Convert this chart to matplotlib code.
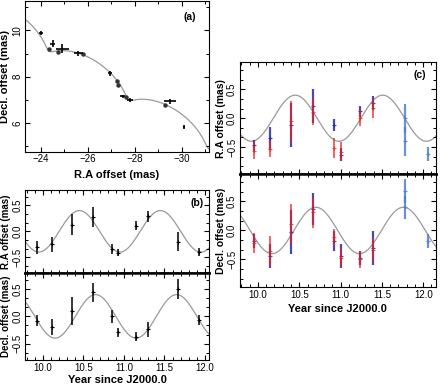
import numpy as np
import matplotlib
matplotlib.use("Agg")
import matplotlib.pyplot as plt
from matplotlib.ticker import MultipleLocator

plt.rcParams["font.family"] = ["Liberation Sans", "DejaVu Sans"]
plt.rcParams["font.size"] = 7

# parallax + proper motion fit
PLX_AMP = 0.40
RA_PEAK = 10.45
DEC_PEAK = 10.65
MU_RA = -3.39
MU_DEC = -2.10
RA_REF = -27.02
DEC_REF = 7.84
T_REF = 11.0
# curve of panel (c) as drawn
C_PERIOD = 1.06
C_RA_PEAK = 10.45
C_DEC_PEAK = 10.70

# (a) sky positions
obs_ra = [-24.0, -24.5, -24.92, -25.6, -26.95, -27.48, -27.79, -29.48, -30.09]
obs_dec = [9.9, 9.43, 9.21, 9.01, 8.14, 7.16, 7.0, 6.93, 5.83]
obs_ra_err = [0.08, 0.1, 0.26, 0.2, 0.08, 0.1, 0.12, 0.25, 0.06]
obs_dec_err = [0.08, 0.14, 0.2, 0.1, 0.12, 0.06, 0.1, 0.12, 0.08]
mod_ra = [-24.34, -24.71, -25.79, -27.23, -27.28, -27.6, -29.26]
mod_dec = [9.21, 9.07, 8.96, 7.83, 7.66, 7.11, 6.79]

# (b) residuals after proper motion
epochs = [9.93, 10.11, 10.36, 10.62, 10.85, 10.93, 11.15, 11.30, 11.67, 11.93]
b_ra = [-0.31, -0.25, 0.13, 0.28, -0.34, -0.41, 0.11, 0.29, -0.20, -0.40]
b_ra_err = [0.12, 0.15, 0.20, 0.19, 0.10, 0.07, 0.09, 0.11, 0.18, 0.08]
b_dec = [-0.08, -0.20, 0.10, 0.44, 0.0, -0.29, -0.37, -0.24, 0.50, -0.06]
b_dec_err = [0.10, 0.15, 0.26, 0.17, 0.12, 0.08, 0.08, 0.14, 0.18, 0.09]

# (c) per-component residuals
red_t = [9.95, 10.14, 10.40, 10.67, 10.92, 11.00, 11.24, 11.39]
red_ra = [-0.56, -0.54, -0.05, 0.11, -0.52, -0.58, 0.0, 0.17]
red_ra_err = [0.14, 0.14, 0.35, 0.23, 0.17, 0.17, 0.14, 0.17]
red_dec = [-0.21, -0.35, 0.11, 0.31, -0.12, -0.47, -0.50, -0.33]
red_dec_err = [0.17, 0.26, 0.35, 0.26, 0.15, 0.15, 0.15, 0.20]
blue_t = [9.95, 10.14, 10.40, 10.67, 10.92, 11.00, 11.24, 11.39]
blue_ra = [-0.47, -0.35, -0.12, 0.21, -0.12, -0.63, 0.12, 0.27]
blue_ra_err = [0.10, 0.20, 0.38, 0.29, 0.10, 0.12, 0.10, 0.12]
blue_dec = [-0.18, -0.44, -0.03, 0.37, -0.18, -0.44, -0.47, -0.30]
blue_dec_err = [0.12, 0.20, 0.38, 0.28, 0.17, 0.20, 0.12, 0.29]
late_t = [11.78, 11.78, 12.06]
late_ra = [0.0, -0.40, -0.62]
late_ra_err = [0.25, 0.25, 0.12]
late_dec = [0.68, 0.40, -0.18]
late_dec_err = [0.20, 0.20, 0.12]

RED = "#e8221e"
BLUE = "#2a2aa0"
LBLUE = "#4f7fd0"
CURVE = "#9a9a9a"


def plx(t, peak, period=1.0):
    return PLX_AMP * np.cos(2 * np.pi * (t - peak) / period)


def style(ax, xminor, yminor):
    ax.tick_params(which="both", direction="in", top=True, right=True, pad=2)
    ax.tick_params(which="major", length=3.5, width=0.8)
    ax.tick_params(which="minor", length=2, width=0.7)
    ax.xaxis.set_minor_locator(MultipleLocator(xminor))
    ax.yaxis.set_minor_locator(MultipleLocator(yminor))
    for lab in ax.get_yticklabels():
        lab.set_rotation(90)
        lab.set_va("center")


fig = plt.figure(figsize=(4.4, 3.87), dpi=100)

# ---- (a)
ax = fig.add_axes([0.057, 0.608, 0.418, 0.389])
t = np.linspace(9.7, 12.3, 600)
ax.plot(RA_REF + MU_RA * (t - T_REF) + plx(t, RA_PEAK),
        DEC_REF + MU_DEC * (t - T_REF) + plx(t, DEC_PEAK),
        color=CURVE, lw=0.9, zorder=1)
ax.errorbar(obs_ra, obs_dec, xerr=obs_ra_err, yerr=obs_dec_err, fmt="none",
            ecolor="black", elinewidth=1.2, zorder=3)
ax.plot(mod_ra, mod_dec, "o", color="#333333", ms=2.2, zorder=2)
ax.set_xlim(-23.33, -31.15)
ax.set_ylim(4.76, 11.26)
ax.set_xticks([-24, -26, -28, -30])
ax.set_yticks([6, 8, 10])
style(ax, 1, 1)
ax.set_xlabel("R.A offset (mas)", fontweight="bold", fontsize=8, labelpad=4)
ax.set_ylabel("Decl. offset (mas)", fontweight="bold", fontsize=8, labelpad=2)
ax.text(0.93, 0.93, "(a)", transform=ax.transAxes, ha="right", va="top",
        fontweight="bold", fontsize=7.5)

# ---- (b)
tc = np.linspace(9.7, 12.2, 400)
b_top = fig.add_axes([0.057, 0.295, 0.418, 0.2145])
b_bot = fig.add_axes([0.057, 0.070, 0.418, 0.225], sharex=b_top)
for ax, vals, errs, peak in [(b_top, b_ra, b_ra_err, RA_PEAK),
                             (b_bot, b_dec, b_dec_err, DEC_PEAK)]:
    ax.plot(tc, plx(tc, peak), color=CURVE, lw=0.9, zorder=1)
    ax.errorbar(epochs, vals, yerr=errs, fmt="+", color="black", ms=2.5,
                mew=0.8, elinewidth=1.1, zorder=2)
    ax.set_xlim(9.78, 12.05)
    ax.set_ylim(-0.8, 0.8)
    ax.set_yticks([-0.5, 0.0, 0.5])
    style(ax, 0.1, 0.5 / 3)
b_top.spines["bottom"].set_linewidth(1.8)
b_bot.spines["top"].set_linewidth(1.8)
b_top.tick_params(labelbottom=False)
b_bot.set_xticks([10.0, 10.5, 11.0, 11.5, 12.0])
b_top.set_ylabel("R.A offset (mas)", fontweight="bold", fontsize=7, labelpad=1)
b_bot.set_ylabel("Decl. offset (mas)", fontweight="bold", fontsize=7, labelpad=1)
b_bot.set_xlabel("Year since J2000.0", fontweight="bold", fontsize=8, labelpad=2)
b_top.text(0.97, 0.9, "(b)", transform=b_top.transAxes, ha="right", va="top",
           fontweight="bold", fontsize=7.5)

# ---- (c)
c_top = fig.add_axes([0.545, 0.550, 0.445, 0.289])
c_bot = fig.add_axes([0.545, 0.259, 0.445, 0.291], sharex=c_top)
panels = [(c_top, red_ra, red_ra_err, blue_ra, blue_ra_err, late_ra, late_ra_err, C_RA_PEAK),
          (c_bot, red_dec, red_dec_err, blue_dec, blue_dec_err, late_dec, late_dec_err, C_DEC_PEAK)]
for ax, rv, re_, bv, be, lv, le, peak in panels:
    ax.plot(tc, plx(tc, peak, C_PERIOD), color=CURVE, lw=0.9, zorder=1)
    ax.errorbar(blue_t, bv, yerr=be, fmt="+", color=BLUE, ms=2.5, mew=0.8,
                elinewidth=1.6, alpha=0.85, zorder=2)
    ax.errorbar(red_t, rv, yerr=re_, fmt="+", color=RED, ms=2.5, mew=0.8,
                elinewidth=1.3, alpha=0.75, zorder=3)
    ax.errorbar(late_t, lv, yerr=le, fmt="+", color=LBLUE, ms=2.5, mew=0.8,
                elinewidth=1.6, alpha=0.85, zorder=2)
    ax.set_xlim(9.78, 12.15)
    ax.set_ylim(-0.97, 0.97)
    ax.set_yticks([-0.5, 0.0, 0.5])
    style(ax, 0.1, 0.5 / 3)
c_top.spines["bottom"].set_linewidth(1.8)
c_bot.spines["top"].set_linewidth(1.8)
c_top.tick_params(labelbottom=False)
c_bot.set_xticks([10.0, 10.5, 11.0, 11.5, 12.0])
c_top.set_ylabel("R.A offset (mas)", fontweight="bold", fontsize=7.5, labelpad=1)
c_bot.set_ylabel("Decl. offset (mas)", fontweight="bold", fontsize=7.5, labelpad=1)
c_bot.set_xlabel("Year since J2000.0", fontweight="bold", fontsize=8, labelpad=3)
c_top.text(0.95, 0.93, "(c)", transform=c_top.transAxes, ha="right", va="top",
           fontweight="bold", fontsize=7.5)

fig.savefig("out.png", dpi=100)
